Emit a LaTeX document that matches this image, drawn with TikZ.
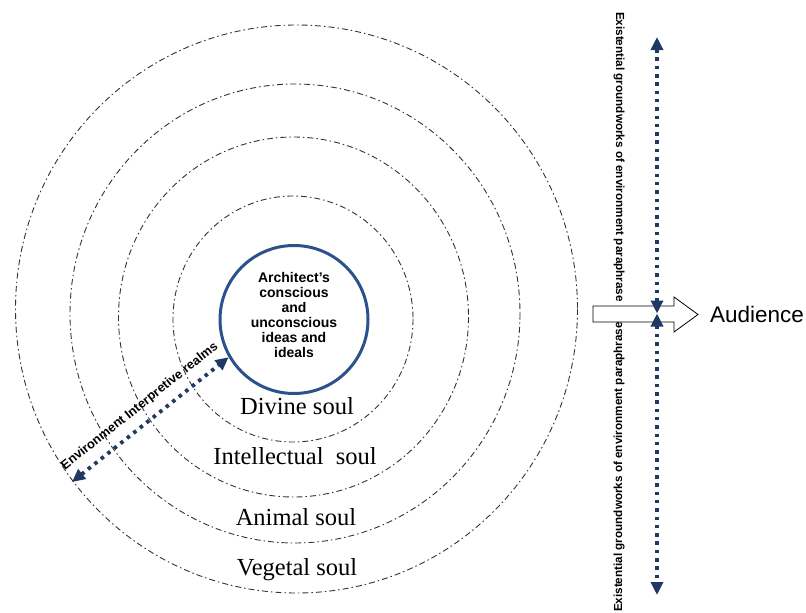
\documentclass[tikz,border=0pt]{standalone}
\usepackage{fontspec}
\setmainfont{Liberation Sans}
\newfontfamily\soulfont{Liberation Serif}
\usetikzlibrary{arrows.meta}
\definecolor{navy}{RGB}{31,56,100}
\definecolor{ringblue}{RGB}{44,82,140}

\begin{document}
\begin{tikzpicture}[x=1pt,y=-1pt]
      \tikzstyle{ring} = [draw=black!80, line width=0.9pt, dash pattern=on 6pt off 3pt on 1.5pt off 3pt]
      \tikzstyle{dotlink} = [draw=navy, line width=3.8pt, dash pattern=on 3.5pt off 4.8pt, {Triangle[length=13pt,width=12pt]}-{Triangle[length=13pt,width=12pt]}]
      \tikzstyle{soul} = [font=\soulfont\fontsize{24.5}{28}\selectfont, inner sep=0pt]
      \tikzstyle{side} = [font=\bfseries\fontsize{11.7}{14}\selectfont, inner sep=0pt]
      \useasboundingbox (0,0) rectangle (806,613);
      \foreach \cx/\cy/\rx/\ry in {293/319/120/123, 293.5/317/175/180, 295/313.5/225/229.5, 296.5/309/281/284}{
        \draw[ring] (\cx,\cy) ellipse [x radius=\rx, y radius=\ry];
      }
      \node[circle, draw=ringblue, line width=3pt, minimum size=148pt] (ideas) at (294,319.5) {};
      \node[align=center, inner sep=0pt, font=\bfseries\fontsize{14}{15}\selectfont] (ideastext) at (294,315) {Architect's\\conscious\\and\\unconscious\\ideas and\\ideals};
      \node[soul] (divine) at (297,406) {Divine soul};
      \node[soul] (intellect) at (295,456) {Intellectual\hspace{0.5em}soul};
      \node[soul] (animal) at (296,517) {Animal soul};
      \node[soul] (vegetal) at (297,570) {Vegetal soul};
      \draw[line width=0.8pt, fill=white] (593,306) -- (674,306) -- (674,297) -- (698,314.5)
        -- (674,332) -- (674,322) -- (593,322) -- cycle;
      \node[font=\fontsize{22.5}{26}\selectfont, inner sep=0pt] (audience) at (757,314) {Audience};
      \coordinate (topA) at (657,37);
      \coordinate (hub) at (657,313.5);
      \coordinate (botA) at (657,595);
      \draw[dotlink] (topA) -- (hub);
      \draw[dotlink] (hub) -- (botA);
      \node[side, rotate=-90] (paraup) at (619,157) {Existential groundworks of environment paraphrase};
      \node[side, rotate=90] (paradown) at (619,467) {Existential groundworks of environment paraphrase};
      \coordinate (envA) at (72,482);
      \draw[dotlink] (envA) -- (ideas.210)
        node[midway, sloped, above=9pt, inner sep=0pt, font=\bfseries\fontsize{12.8}{14}\selectfont] (realms) {Environment Interpretive realms};
    \end{tikzpicture}
\end{document}
